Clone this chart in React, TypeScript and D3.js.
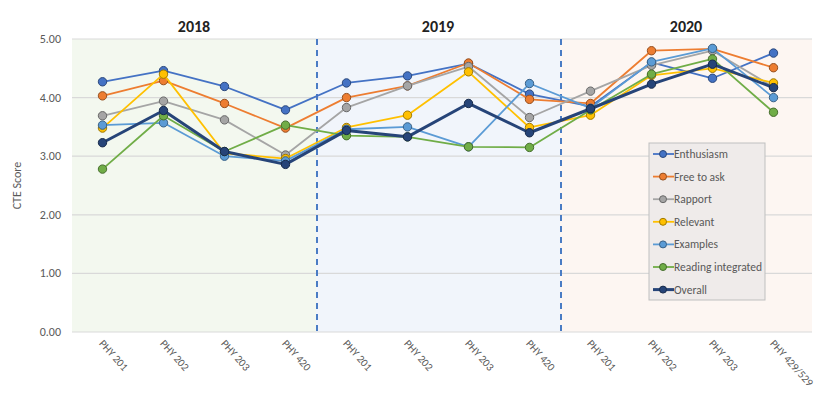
import { useEffect, useRef } from 'react';
import * as d3 from 'd3';

const courses = [
  'PHY 201', 'PHY 202', 'PHY 203', 'PHY 420',
  'PHY 201', 'PHY 202', 'PHY 203', 'PHY 420',
  'PHY 201', 'PHY 202', 'PHY 203', 'PHY 429/529',
];
const years = ['2018', '2019', '2020'];
const seriesNames = ['Enthusiasm', 'Free to ask', 'Rapport', 'Relevant', 'Examples', 'Reading integrated', 'Overall'];

const enthusiasm = [4.27, 4.46, 4.19, 3.79, 4.25, 4.37, 4.58, 4.06, 3.85, 4.6, 4.33, 4.76];
const freeToAsk = [4.03, 4.29, 3.9, 3.48, 4.0, 4.2, 4.59, 3.97, 3.9, 4.8, 4.83, 4.51];
const rapport = [3.69, 3.94, 3.62, 3.02, 3.83, 4.2, 4.53, 3.66, 4.11, 4.55, 4.8, 4.18];
const relevant = [3.48, 4.4, 3.05, 2.96, 3.49, 3.7, 4.44, 3.49, 3.7, 4.38, 4.5, 4.25];
const examples = [3.53, 3.57, 3.0, 2.92, 3.46, 3.5, 3.16, 4.24, 3.82, 4.61, 4.84, 4.0];
const reading = [2.78, 3.69, 3.08, 3.53, 3.35, 3.33, 3.16, 3.15, 3.79, 4.4, 4.66, 3.75];
const overall = [3.23, 3.78, 3.08, 2.86, 3.44, 3.33, 3.9, 3.4, 3.81, 4.23, 4.57, 4.17];

const seriesValues = [enthusiasm, freeToAsk, rapport, relevant, examples, reading, overall];
const colors = ['#4472C4', '#ED7D31', '#A5A5A5', '#FFC000', '#5B9BD5', '#70AD47', '#264478'];
const yearFills = ['#f3f8ef', '#f1f5fb', '#fdf6f2'];
const yTicks = [0, 1, 2, 3, 4, 5];

function Chart() {
  const svgRef = useRef<SVGSVGElement>(null);

  useEffect(() => {
    const svg = d3.select(svgRef.current);
    svg.selectAll('*').remove();
    const font = 'Carlito, Lato, "Open Sans", sans-serif';

    const left = 72;
    const right = 804;
    const x = d3.scaleBand<number>().domain(d3.range(courses.length)).range([left, right]);
    const y = d3.scaleLinear().domain([0, 5]).range([332, 39]);
    const cx = (i: number) => (x(i) as number) + x.bandwidth() / 2;

    // year backgrounds
    years.forEach((yr, k) => {
      const x0 = k === 0 ? left : (x(k * 4) as number);
      const x1 = k === 2 ? 812 : (x(k * 4 + 4) as number);
      svg.append('rect')
        .attr('x', x0).attr('y', y(5))
        .attr('width', x1 - x0).attr('height', y(0) - y(5))
        .attr('fill', yearFills[k]);
      svg.append('text')
        .attr('x', (x0 + x1) / 2).attr('y', 32)
        .attr('text-anchor', 'middle')
        .attr('font-family', font).attr('font-size', 16).attr('font-weight', 'bold')
        .attr('fill', '#222')
        .text(yr);
    });

    // gridlines and y labels
    yTicks.forEach(t => {
      svg.append('line')
        .attr('x1', left).attr('x2', 812)
        .attr('y1', y(t)).attr('y2', y(t))
        .attr('stroke', '#d9d9d9').attr('stroke-width', 1.2);
      svg.append('text')
        .attr('x', 61).attr('y', y(t) + 4)
        .attr('text-anchor', 'end')
        .attr('font-family', font).attr('font-size', 12)
        .attr('fill', '#595959')
        .text(t.toFixed(2));
    });

    // dashed separators
    [4, 8].forEach(i => {
      const xs = (x(i) as number) + 1;
      svg.append('line')
        .attr('x1', xs).attr('x2', xs)
        .attr('y1', y(5)).attr('y2', y(0))
        .attr('stroke', '#4a7cc4').attr('stroke-width', 2)
        .attr('stroke-dasharray', '6,5');
    });

    svg.append('text')
      .attr('transform', `translate(21,${y(2.5)}) rotate(-90)`)
      .attr('text-anchor', 'middle')
      .attr('font-family', font).attr('font-size', 12)
      .attr('fill', '#595959')
      .text('CTE Score');

    // x labels
    courses.forEach((c, i) => {
      svg.append('text')
        .attr('transform', `translate(${cx(i) - 4},${344}) rotate(48)`)
        .attr('text-anchor', 'start')
        .attr('font-family', font).attr('font-size', 11)
        .attr('fill', '#595959')
        .text(c);
    });

    // series
    const line = d3.line<number>().x((_, i) => cx(i)).y(d => y(d));
    seriesValues.forEach((vals, s) => {
      const isOverall = s === seriesValues.length - 1;
      const g = svg.append('g');
      g.append('path')
        .attr('d', line(vals))
        .attr('fill', 'none')
        .attr('stroke', colors[s])
        .attr('stroke-width', isOverall ? 3 : 1.8)
        .attr('stroke-linejoin', 'round');
      g.selectAll('circle')
        .data(vals)
        .enter()
        .append('circle')
        .attr('cx', (_, i) => cx(i))
        .attr('cy', d => y(d))
        .attr('r', 4.2)
        .attr('fill', colors[s])
        .attr('stroke', d3.color(colors[s])!.darker(1.3).toString())
        .attr('stroke-width', 1);
    });

    // legend
    const lg = svg.append('g').attr('transform', 'translate(649,143)');
    lg.append('rect')
      .attr('width', 116).attr('height', 157)
      .attr('fill', '#efebea').attr('stroke', '#bfbfbf');
    seriesNames.forEach((name, s) => {
      const ly = 11 + s * 22.6;
      const isOverall = s === seriesNames.length - 1;
      lg.append('line')
        .attr('x1', 4).attr('x2', 25).attr('y1', ly).attr('y2', ly)
        .attr('stroke', colors[s]).attr('stroke-width', isOverall ? 3 : 1.8);
      lg.append('circle')
        .attr('cx', 14).attr('cy', ly).attr('r', 3.5)
        .attr('fill', colors[s])
        .attr('stroke', d3.color(colors[s])!.darker(1.3).toString());
      lg.append('text')
        .attr('x', 25).attr('y', ly + 4)
        .attr('font-family', font).attr('font-size', 11.5)
        .attr('fill', '#595959')
        .text(name);
    });
  }, []);

  return <svg ref={svgRef} width={820} height={404} style={{ position: 'absolute', left: 0, top: 0, background: '#fff' }} />;
}

export default function App() {
  return <Chart />;
}
